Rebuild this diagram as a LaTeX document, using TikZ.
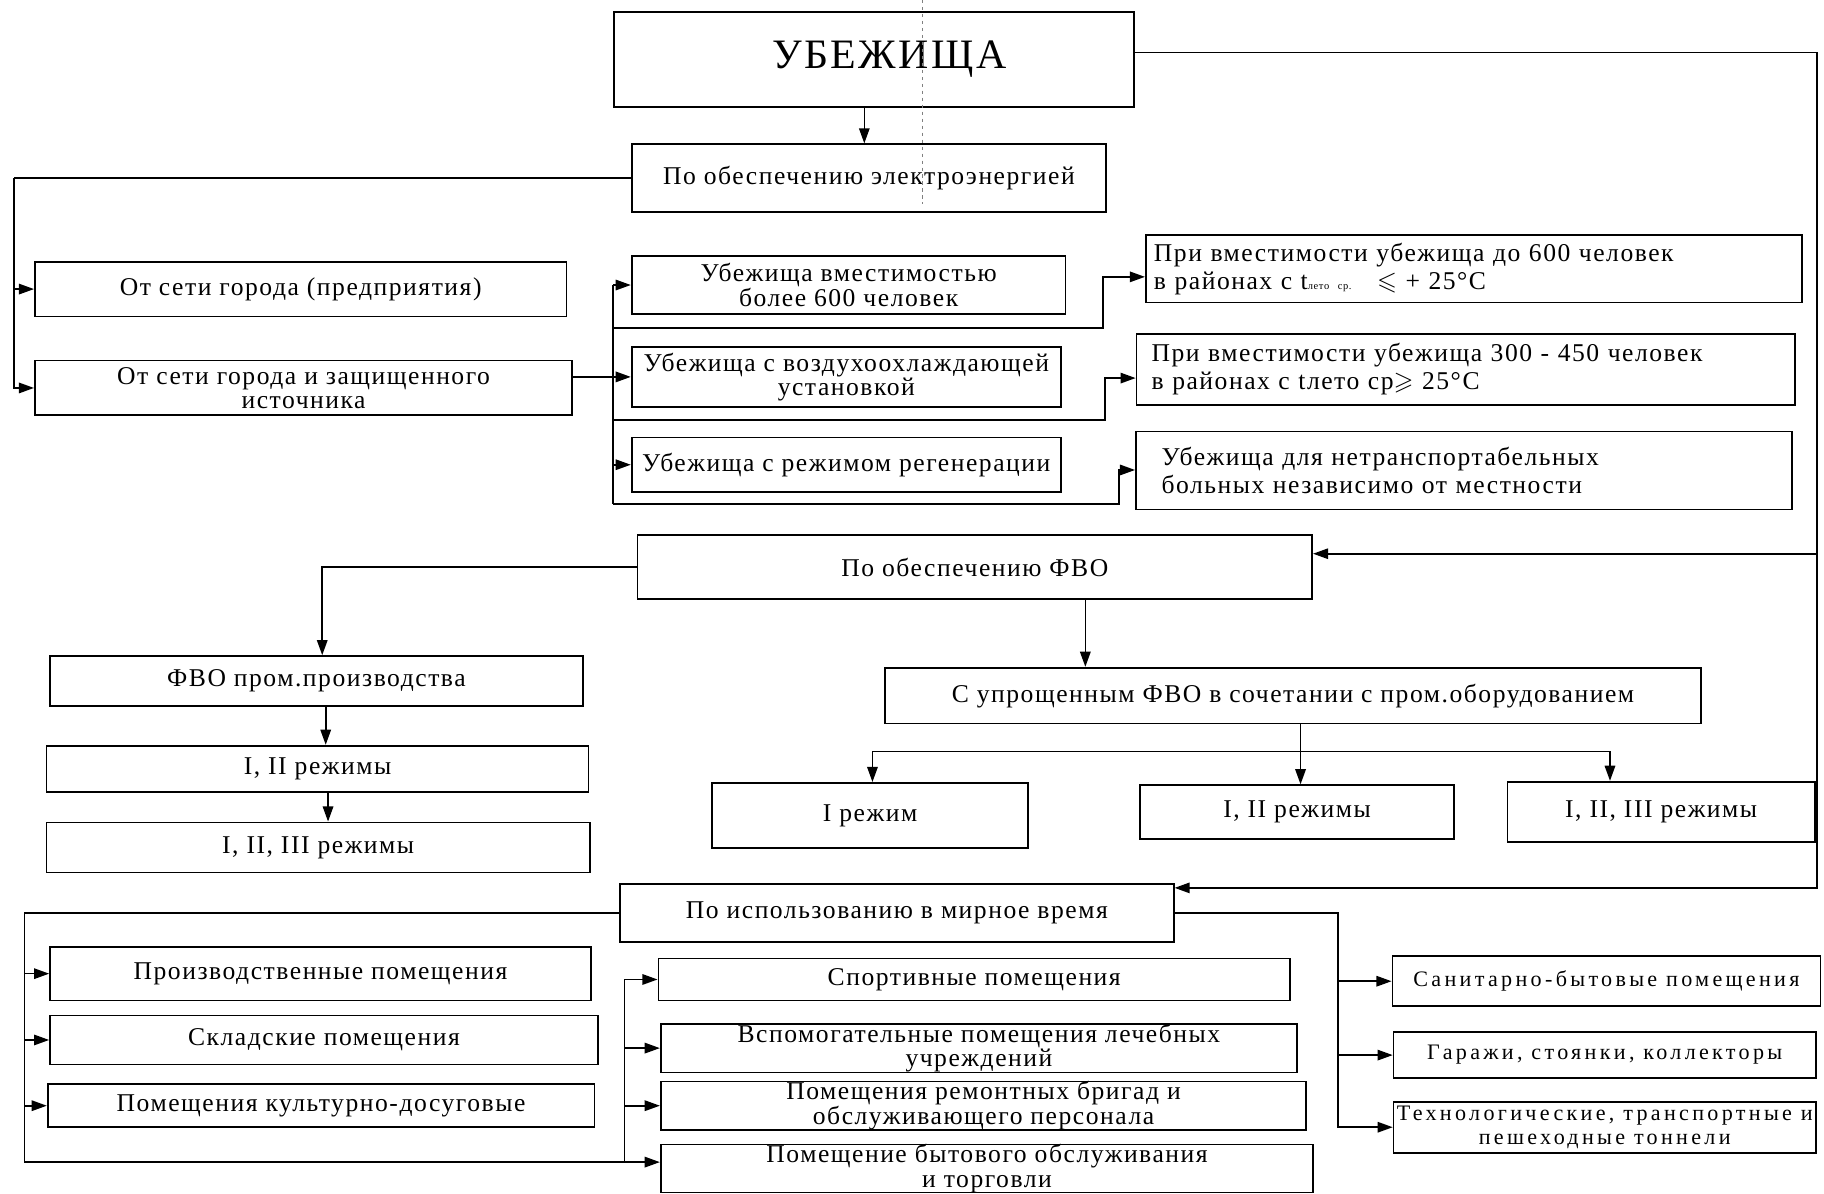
\documentclass[tikz,border=0pt]{standalone}
\usepackage{fontspec}
\setmainfont{Liberation Serif}
\newfontfamily\rfont[LetterSpace=6]{Liberation Serif}
\newfontfamily\wfont[LetterSpace=15]{Liberation Serif}
\usepackage{amssymb}
\usetikzlibrary{arrows.meta}
\newcommand\BoxN[7][]{\node[box, minimum width={(#5-#3)*1pt}, minimum height={(#6-#4)*1pt}, #1] (#2) at ({(#3+#5)/2},{(#4+#6)/2}) {#7};}
\begin{document}
\begin{tikzpicture}[x=1pt,y=-1pt,
  box/.style={draw, line width=1.5pt, inner xsep=3pt, inner ysep=0pt, align=center, font=\rfont\fontsize{22}{21}\selectfont},
  tall/.style={font=\rfont\fontsize{22}{24}\selectfont},
  wide/.style={font=\wfont\fontsize{19}{21}\selectfont},
  ln/.style={line width=1.4pt},
  arr/.style={line width=1.4pt, -{Triangle[length=13pt,width=9pt]}}]
\useasboundingbox (0,0) rectangle (1568,1026);
\fill[white] (0,0) rectangle (1568,1026);
% boxes
\BoxN[font=\rfont\fontsize{36}{36}\selectfont]{ub}{528}{10}{975}{92}{\hspace*{26pt}УБЕЖИЩА}
\BoxN{el}{543}{124}{951}{182}{По обеспечению электроэнергией}
\BoxN{o1}{30}{225}{487}{272}{От сети города (предприятия)}
\BoxN{o2}{30}{310}{492}{357}{От сети города и защищенного\\источника}
\BoxN{v1}{543}{220}{916}{270}{Убежища вместимостью\\более 600 человек}
\BoxN{v2}{543}{298}{912}{350}{Убежища с воздухоохлаждающей\\установкой}
\BoxN{v3}{543}{376}{912}{423}{Убежища с режимом регенерации}
\BoxN[tall, align=left, text width=550pt, inner xsep=5pt]{p1}{985}{202}{1549}{260}{При вместимости убежища до 600 человек\\в районах с t{\fontsize{9}{9}\selectfont лето ср.}\quad $\leqslant$ + 25°C}
\BoxN[tall, align=left, text width=540pt, inner xsep=12pt]{p2}{977}{287}{1543}{348}{При вместимости убежища 300 - 450 человек\\в районах с tлето ср$\geqslant$ 25°C}
\BoxN[tall, align=left, text width=520pt, inner xsep=22pt]{p3}{977}{371}{1540}{438}{Убежища для нетранспортабельных\\больных независимо от местности}
\BoxN{fvo}{548}{460}{1128}{515}{По обеспечению ФВО}
\BoxN{f1}{43}{564}{501}{607}{ФВО пром.производства}
\BoxN{f2}{40}{641}{506}{681}{I, II режимы}
\BoxN{f3}{40}{707}{507}{750}{I, II, III режимы}
\BoxN{s1}{761}{574}{1462}{622}{С упрощенным ФВО в сочетании с пром.оборудованием}
\BoxN{r1}{612}{673}{884}{729}{I режим}
\BoxN{r2}{980}{675}{1250}{721}{I, II режимы}
\BoxN{r3}{1296}{672}{1560}{724}{I, II, III режимы}
\BoxN{pm}{533}{760}{1009}{810}{По использованию в мирное время}
\BoxN{m1}{43}{814}{508}{860}{Производственные помещения}
\BoxN{m2}{43}{873}{514}{915}{Складские помещения}
\BoxN{m3}{41}{932}{511}{969}{Помещения культурно-досуговые}
\BoxN{n1}{566}{824}{1109}{860}{Спортивные помещения}
\BoxN{n2}{568}{880}{1115}{922}{Вспомогательные помещения лечебных\\учреждений}
\BoxN{n3}{568}{930}{1123}{971}{Помещения ремонтных бригад и\\обслуживающего персонала}
\BoxN{n4}{568}{985}{1129}{1024}{Помещение бытового обслуживания\\и торговли}
\BoxN[wide]{t1}{1197}{822}{1565}{865}{Санитарно-бытовые помещения}
\BoxN[wide]{t2}{1198}{887}{1561}{927}{Гаражи, стоянки, коллекторы}
\BoxN[wide, inner xsep=0pt]{t3}{1198}{947}{1561}{991}{Технологические, транспортные и\\пешеходные тоннели}
% fold line
\draw[dashed, line width=0.5pt, gray] (793,0) -- (793,175);
% connectors
\coordinate (ct) at (743,0);
\draw[arr] (ub.south -| ct) -- (el.north -| ct);
\coordinate (R) at (1562,45);
\draw[arr] (ub.east |- R) -- (R) |- ([yshift=-4pt]pm.north east);
\draw[arr] (1562,476) -- (fvo.east |- 0,476);
% electro
\coordinate (L1) at (12,153);
\draw[ln] (el.west |- L1) -- (L1);
\draw[arr] (L1) |- (o2.west);
\draw[arr] (L1 |- o1.west) -- (o1.west);
\coordinate (V) at (527,0);
\draw[ln] (V |- v1.west) -- (527,433);
\draw[arr] (V |- v1.west) -- (v1.west);
\draw[arr] (o2.east |- v2.west) -- (v2.west);
\draw[arr] (V |- v3.west) -- (v3.west);
\draw[arr] (527,282) -- (948,282) -- (948,238) -- (p1.west |- 0,238);
\draw[arr] (527,361) -- (950,361) -- (950,325) -- (p2.west |- 0,325);
\draw[arr] (527,433) -- (962,433) -- (962,404) -- (p3.west |- 0,404);
% FVO
\draw[arr] (fvo.west) -| (f1.north -| 277,0);
\draw[arr] (fvo.south -| 933,0) -- (s1.north -| 933,0);
\draw[arr] (f1.south -| 280,0) -- (f2.north -| 280,0);
\draw[arr] (f2.south -| 282,0) -- (f3.north -| 282,0);
\draw[ln] (s1.south -| 1118,0) -- (1118,646);
\draw[ln] (750,646) -- (1384,646);
\draw[arr] (750,646) -- (r1.north -| 750,0);
\draw[arr] (1118,646) -- (r2.north -| 1118,0);
\draw[arr] (1384,646) -- (r3.north -| 1384,0);
% peace time
\coordinate (L2) at (21,785);
\draw[arr] (pm.west) -- (L2) -- (21,999) -- (n4.west |- 0,999);
\draw[arr] (L2 |- m1.west) -- (m1.west);
\draw[arr] (L2 |- m2.west) -- (m2.west);
\draw[arr] (L2 |- m3.west) -- (m3.west);
\draw[ln] (n1.west -| 537,0) -- (537,999);
\draw[arr] (n1.west -| 537,0) -- (n1.west);
\draw[arr] (n2.west -| 537,0) -- (n2.west);
\draw[arr] (n3.west -| 537,0) -- (n3.west);
\coordinate (Q) at (1150,785);
\draw[arr] (pm.east) -- (Q) |- (t3.west);
\draw[arr] (t1.west -| Q) -- (t1.west);
\draw[arr] (t2.west -| Q) -- (t2.west);
\end{tikzpicture}
\end{document}
